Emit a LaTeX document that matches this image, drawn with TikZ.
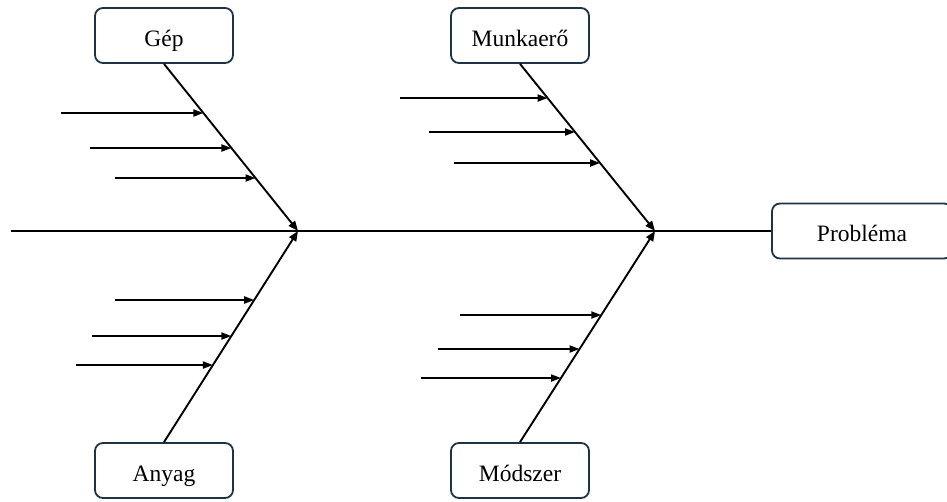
\documentclass[tikz,border=0pt]{standalone}
\usepackage{fontspec}
\setmainfont{Liberation Serif}
\usetikzlibrary{arrows.meta,calc}
\definecolor{boxline}{HTML}{1E3446}
\begin{document}
\begin{tikzpicture}[x=1pt,y=-1pt,
  catbox/.style={draw=boxline,line width=1.8pt,rounded corners=8pt,fill=white,
    minimum width=138pt,minimum height=55pt,inner sep=0pt,
    text height=24pt,text depth=3pt,
    font=\fontsize{23.5}{28}\selectfont},
  bone/.style={line width=1.9pt,-{Triangle[length=10pt,width=8pt]}},
  rib/.style={line width=1.9pt,-{Triangle[length=10pt,width=7pt]}},
  spine/.style={line width=1.9pt}]
\useasboundingbox (0,0) rectangle (947,501);

% category boxes and the effect box
\node[catbox] (gep) at (164,35.5) {Gép};
\node[catbox] (munka) at (520,35.5) {Munkaerő};
\node[catbox] (anyag) at (164,470.5) {Anyag};
\node[catbox] (modszer) at (520,470.5) {Módszer};
\node[catbox,minimum width=180pt] (problema) at (862,231) {Probléma};

% spine
\coordinate (tail) at (11,231);
\coordinate (j1) at (298,231);
\coordinate (j2) at (655,231);
\draw[spine] (tail) -- (problema.west);

% main bones
\draw[bone] (gep.south) -- (j1);
\draw[bone] (anyag.north) -- (j1);
\draw[bone] (munka.south) -- (j2);
\draw[bone] (modszer.north) -- (j2);

% ribs: start x / height, each ending where it meets its bone
\foreach \x/\y [count=\i] in {61/113, 90/148, 115/178} {
  \coordinate (gs\i) at (\x,\y);
  \coordinate (g\i) at (intersection of gep.south--j1 and gs\i--{300,\y});
  \draw[rib] (gs\i) -- (g\i);
}
\foreach \x/\y [count=\i] in {400/98, 429/132, 454/163} {
  \coordinate (ms\i) at (\x,\y);
  \coordinate (m\i) at (intersection of munka.south--j2 and ms\i--{660,\y});
  \draw[rib] (ms\i) -- (m\i);
}
\foreach \x/\y [count=\i] in {115/300, 92/336, 76/365} {
  \coordinate (as\i) at (\x,\y);
  \coordinate (a\i) at (intersection of anyag.north--j1 and as\i--{300,\y});
  \draw[rib] (as\i) -- (a\i);
}
\foreach \x/\y [count=\i] in {460/315, 438/349, 421/378} {
  \coordinate (ds\i) at (\x,\y);
  \coordinate (d\i) at (intersection of modszer.north--j2 and ds\i--{660,\y});
  \draw[rib] (ds\i) -- (d\i);
}
\end{tikzpicture}
\end{document}
